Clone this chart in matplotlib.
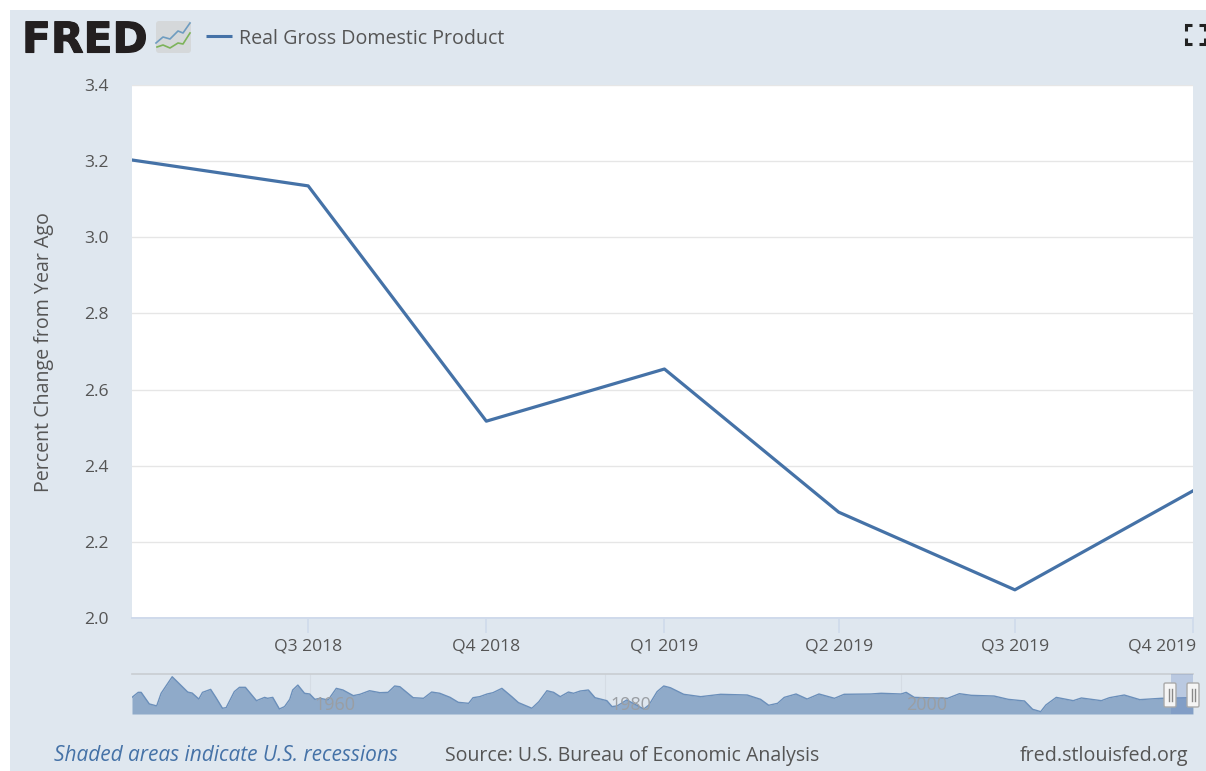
import matplotlib
matplotlib.use("Agg")
import matplotlib.pyplot as plt
import matplotlib.patheffects as pe
import matplotlib.transforms as mtrans
from matplotlib.patches import Rectangle, FancyBboxPatch
import datetime as dt

W, H = 1206, 771
PANEL = "#DFE7EF"
LINE = "#4572A7"
TEXT = "#555555"

plt.rcParams["font.family"] = ["Open Sans", "DejaVu Sans"]

# main series
quarters = ["2018-04-01", "2018-07-01", "2018-10-01", "2019-01-01",
            "2019-04-01", "2019-07-01", "2019-10-01"]
gdp_change = [3.203, 3.135, 2.517, 2.654, 2.278, 2.074, 2.334]
tick_quarters = quarters[1:]
tick_labels = ["Q3 2018", "Q4 2018", "Q1 2019", "Q2 2019", "Q3 2019", "Q4 2019"]
y_ticks = [2.0, 2.2, 2.4, 2.6, 2.8, 3.0, 3.2, 3.4]

# navigator (overview) series
nav_years = [1947.98, 1948.4, 1948.6, 1949.15, 1949.65, 1949.95, 1950.7, 1951.2, 1951.75, 1952.05,
             1952.5, 1952.75, 1953.3, 1953.65, 1954.1, 1954.35, 1954.9, 1955.25, 1955.65, 1956.4,
             1956.95, 1957.15, 1957.5, 1957.95, 1958.3, 1958.65, 1958.85, 1959.2, 1959.65, 1960.0,
             1960.35, 1960.7, 1961.25, 1961.8, 1962.25, 1962.95, 1963.4, 1964.05, 1964.75, 1965.3,
             1965.75, 1966.1, 1967.0, 1967.7, 1968.25, 1968.8, 1969.5, 1970.05, 1970.75, 1971.05,
             1971.5, 1972.0, 1972.4, 1973.0, 1973.67, 1974.12, 1975.03, 1975.5, 1976.05, 1976.5,
             1976.95, 1977.5, 1977.85, 1978.3, 1978.85, 1979.3, 1980.1, 1980.45, 1980.8, 1981.45,
             1982.6, 1982.95, 1983.5, 1983.95, 1984.4, 1985.3, 1986.45, 1987.8, 1989.6, 1990.5,
             1991.05, 1991.65, 1992.1, 1992.9, 1993.65, 1994.45, 1995.5, 1996.15, 1997.95, 1998.65,
             2000.0, 2000.35, 2000.9, 2003.15, 2003.95, 2004.75, 2006.3, 2007.25, 2008.35, 2008.9,
             2009.45, 2009.8, 2010.5, 2011.65, 2012.2, 2013.55, 2014.1, 2015.1, 2016.15, 2017.6,
             2019.75]
nav_values = [3.1, 5.55, 5.55, -0.1, -1.05, 5.1, 13.15, 9.6, 5.7, 5.2,
              2.3, 5.55, 7.0, 3.1, -2.2, -1.9, 5.9, 8.0, 8.0, 1.5,
              3.1, 2.65, 3.1, -2.55, -1.4, 2.15, 6.7, 9.1, 5.1, 4.75,
              2.15, 2.65, 1.85, 7.5, 6.7, 3.95, 4.6, 6.35, 5.4, 5.55,
              8.65, 8.3, 2.95, 2.65, 5.7, 5.1, 3.1, 0.7, 0.2, 2.95,
              3.45, 4.75, 5.4, 7.5, 3.45, 0.55, -2.2, 1.0, 6.35, 5.55,
              3.45, 5.7, 5.1, 6.2, 6.7, 2.95, 1.5, -1.4, -1.05, 1.85,
              -2.55, -0.6, 5.9, 8.65, 7.8, 4.6, 3.45, 4.6, 4.25, 2.15,
              -0.75, 0.2, 3.1, 4.75, 2.3, 4.75, 2.65, 4.6, 4.75, 5.1,
              4.75, 5.55, 3.1, 2.65, 4.9, 4.1, 3.75, 2.15, 1.35, -2.7,
              -3.85, -0.6, 3.1, 1.5, 2.8, 1.5, 2.95, 4.25, 2.0, 2.65,
              2.95]
nav_ticks = [1960, 1980, 2000]


def box(x0, y0, x1, y1):
    return [x0 / W, 1 - y1 / H, (x1 - x0) / W, (y1 - y0) / H]


fig = plt.figure(figsize=(W / 100, H / 100), dpi=100, facecolor="white")

# overlay in pixel coordinates for the page furniture
bg = fig.add_axes([0, 0, 1, 1], zorder=0)
bg.set_xlim(0, W)
bg.set_ylim(H, 0)
bg.axis("off")
bg.add_patch(Rectangle((10, 10), W - 10, H - 10, fc=PANEL, ec="none"))

# logo
bg.text(22, 52.5, "FRED", family="DejaVu Sans", weight="bold", fontsize=30.5, color="#231F20",
        va="baseline", ha="left",
        path_effects=[pe.withStroke(linewidth=0.8, foreground="#231F20")])
bg.add_patch(FancyBboxPatch((156, 21), 35, 32, boxstyle="round,pad=0,rounding_size=3",
                            fc="#D5D8DA", ec="none"))
bg.plot([156, 163, 170, 178, 183, 190], [43, 37, 39, 31, 33, 23], color="#6E9CC0", lw=1.2)
bg.plot([157, 163, 170, 178, 183, 190], [47, 45, 48, 43, 44, 33], color="#7DB35A", lw=1.2)

# legend
bg.plot([206, 232], [36, 36], color=LINE, lw=2.2, solid_capstyle="butt")
bg.text(239, 39, "Real Gross Domestic Product", fontsize=14.1, color=TEXT, va="center", ha="left")

# fullscreen icon
for xs, ys in [([1186, 1186, 1192], [31, 25, 25]), ([1199, 1205, 1205], [25, 25, 31]),
               ([1186, 1186, 1192], [38, 44, 44]), ([1199, 1205, 1205], [44, 44, 38])]:
    bg.plot(xs, ys, color="#222222", lw=2.2, solid_capstyle="butt", solid_joinstyle="miter")

# footer
bg.text(54, 755.5, "Shaded areas indicate U.S. recessions", fontsize=15.0, style="italic",
        color=LINE, va="center", ha="left")
bg.text(445, 755.5, "Source: U.S. Bureau of Economic Analysis", fontsize=14.05, color=TEXT,
        va="center", ha="left")
bg.text(1188, 755.5, "fred.stlouisfed.org", fontsize=14.2, color=TEXT, va="center", ha="right")

# main chart
ax = fig.add_axes(box(132, 85, 1193, 618), zorder=2)
dates = [dt.date.fromisoformat(q) for q in quarters]
ax.plot(dates, gdp_change, color=LINE, lw=2.3, solid_joinstyle="round", zorder=3)
ax.set_xlim(dates[0], dates[-1])
ax.set_ylim(2.0, 3.4)
ax.set_yticks(y_ticks, [f"{v:.1f}" for v in y_ticks])
ax.set_xticks([dt.date.fromisoformat(q) for q in tick_quarters], tick_labels)
ax.grid(axis="y", color="#E6E6E6", lw=1)
ax.set_axisbelow(True)
ax.tick_params(axis="y", length=0, pad=17, labelsize=12.6, labelcolor=TEXT)
ax.tick_params(axis="x", length=10.5, width=1.2, color="#CFDAEB", pad=4, labelsize=12.6, labelcolor=TEXT)
for s in ["top", "left", "right"]:
    ax.spines[s].set_visible(False)
ax.spines["bottom"].set_color("#CFDAEB")
ax.spines["bottom"].set_linewidth(1.4)
last = ax.get_xticklabels()[-1]
last.set_ha("right")
last.set_transform(last.get_transform() + mtrans.ScaledTranslation(3 / 100, 0, fig.dpi_scale_trans))
bg.text(44, 352, "Percent Change from Year Ago", rotation=90, fontsize=14.1, color=TEXT,
        va="center", ha="center")

# navigator
nav = fig.add_axes(box(132, 674, 1193, 714), zorder=1)
nav.patch.set_alpha(0)
nav.set_xlim(nav_years[0], nav_years[-1])
nav.set_ylim(-5, 14.5)
nav.fill_between(nav_years, nav_values, -5, color="#8FAAC9", lw=0, zorder=2)
nav.plot(nav_years, nav_values, color="#6B8FBA", lw=1, zorder=3)
nav.axvspan(2018.25, nav_years[-1], color="#6685C2", alpha=0.3, lw=0, zorder=4)
nav.set_xticks([])
nav.set_yticks([])
for s in ["left", "right", "bottom"]:
    nav.spines[s].set_visible(False)
nav.spines["top"].set_color("#C9CDD1")
nav.spines["top"].set_linewidth(1.2)
for yr in nav_ticks:
    nav.axvline(yr, color="#D5DCE4", lw=0.8, zorder=1)
    nav.text(yr, -0.6, str(yr), fontsize=13, color="#9A9EA3", ha="left", va="center", zorder=5,
             transform=nav.transData + mtrans.ScaledTranslation(5 / 100, 0, fig.dpi_scale_trans))

# navigator handles
top = fig.add_axes([0, 0, 1, 1], zorder=3)
top.set_xlim(0, W)
top.set_ylim(H, 0)
top.axis("off")
for cx in (1170, 1193):
    top.add_patch(FancyBboxPatch((cx - 6, 683), 12, 24, boxstyle="round,pad=0,rounding_size=1.5",
                                 fc="#F5F5F5", ec="#AAAAAA", lw=1))
    top.plot([cx - 1.5, cx - 1.5], [689, 701], color="#888888", lw=1)
    top.plot([cx + 1.5, cx + 1.5], [689, 701], color="#888888", lw=1)

fig.savefig("out.png", dpi=100, facecolor="white")
